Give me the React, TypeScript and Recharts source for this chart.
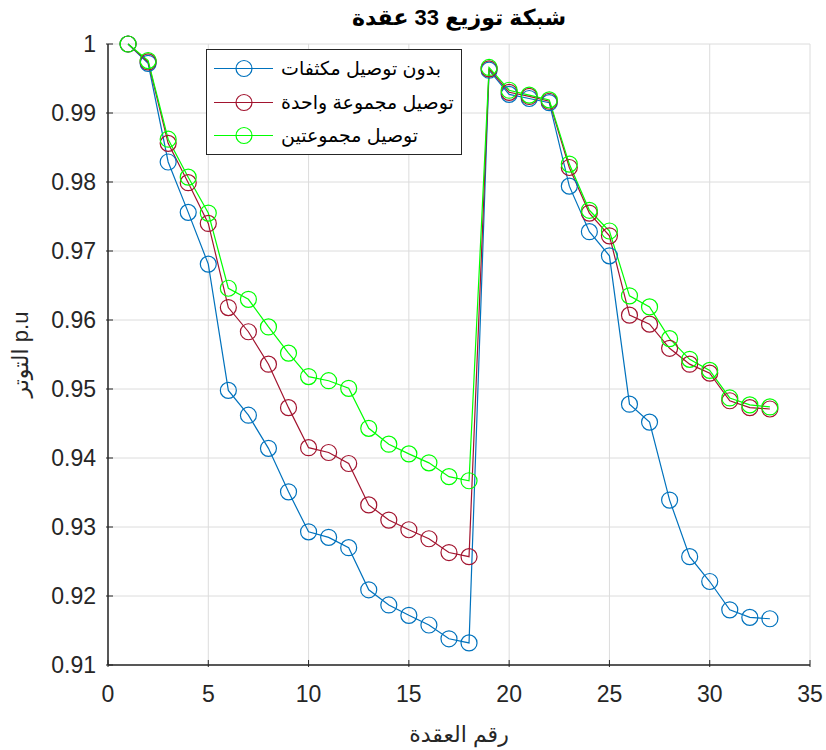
import { LineChart, Line, XAxis, YAxis, CartesianGrid, Label } from "recharts";

const nodes = [1, 2, 3, 4, 5, 6, 7, 8, 9, 10, 11, 12, 13, 14, 15, 16, 17, 18, 19, 20, 21, 22, 23, 24, 25, 26, 27, 28, 29, 30, 31, 32, 33];

const noCaps = [
  1.0, 0.9972, 0.9829, 0.9756, 0.9681, 0.9498, 0.9462, 0.9414, 0.9351, 0.9293,
  0.9285, 0.927, 0.9209, 0.9187, 0.9172, 0.9158, 0.9138, 0.9132, 0.9962, 0.9927,
  0.9921, 0.9915, 0.9794, 0.9728, 0.9693, 0.9478, 0.9452, 0.9339, 0.9257, 0.9221,
  0.918, 0.9169, 0.9167,
];

const oneGroup = [
  1.0, 0.9974, 0.9856, 0.9799, 0.974, 0.9618, 0.9583, 0.9536, 0.9473, 0.9415,
  0.9408, 0.9392, 0.9332, 0.931, 0.9296, 0.9283, 0.9263, 0.9257, 0.9964, 0.993,
  0.9924, 0.9917, 0.9821, 0.9755, 0.9722, 0.9607, 0.9594, 0.9559, 0.9536, 0.9523,
  0.9483, 0.9473, 0.9471,
];

const twoGroups = [
  1.0, 0.9976, 0.9862, 0.9807, 0.9755, 0.9646, 0.963, 0.959, 0.9552, 0.9518,
  0.9512, 0.9501, 0.9443, 0.942, 0.9406, 0.9393, 0.9373, 0.9367, 0.9966, 0.9933,
  0.9926, 0.9919, 0.9826, 0.9759, 0.9729, 0.9635, 0.9619, 0.9573, 0.9543, 0.9527,
  0.9487, 0.9477, 0.9474,
];

const xTicks = [0, 5, 10, 15, 20, 25, 30, 35];
const yTicks = [0.91, 0.92, 0.93, 0.94, 0.95, 0.96, 0.97, 0.98, 0.99, 1];

const seriesNames = ["بدون توصيل مكثفات", "توصيل مجموعة واحدة", "توصيل مجموعتين"];
const seriesKeys = ["noCaps", "oneGroup", "twoGroups"];
const seriesColors = ["#0072BD", "#A2142F", "#00FF00"];

const data = nodes.map((n, i) => ({
  node: n,
  noCaps: noCaps[i],
  oneGroup: oneGroup[i],
  twoGroups: twoGroups[i],
}));

const AXIS = "#262626";
const FONT = "'Liberation Sans', Arial, 'DejaVu Sans', sans-serif";

function BottomTick(props: any) {
  const { x, y, payload } = props;
  return (
    <g>
      <line x1={x} y1={y} x2={x} y2={y - 7} stroke={AXIS} strokeWidth={1} />
      <text x={x} y={y + 35} textAnchor="middle" fontSize={23} fill={AXIS} fontFamily={FONT}>
        {payload.value}
      </text>
    </g>
  );
}

function TopTick(props: any) {
  const { x, y } = props;
  return <line x1={x} y1={y} x2={x} y2={y + 7} stroke={AXIS} strokeWidth={1} />;
}

function LeftTick(props: any) {
  const { x, y, payload } = props;
  const v = payload.value;
  return (
    <g>
      <line x1={x} y1={y} x2={x + 7} y2={y} stroke={AXIS} strokeWidth={1} />
      <text x={x - 10} y={y + 8} textAnchor="end" fontSize={23} fill={AXIS} fontFamily={FONT}>
        {v === 1 ? "1" : v.toFixed(2)}
      </text>
    </g>
  );
}

function RightTick(props: any) {
  const { x, y } = props;
  return <line x1={x} y1={y} x2={x - 7} y2={y} stroke={AXIS} strokeWidth={1} />;
}

function YLabel(props: any) {
  const vb = props.viewBox;
  const cx = 20;
  const cy = vb.y + vb.height / 2;
  return (
    <text
      x={cx}
      y={cy}
      transform={`rotate(-90 ${cx} ${cy})`}
      textAnchor="middle"
      dominantBaseline="central"
      fontSize={22}
      fill={AXIS}
      fontFamily={FONT}
    >
      التوتر p.u
    </text>
  );
}

export default function App() {
  return (
    <div style={{ position: "absolute", left: 0, top: 0, width: 826, height: 750, background: "#fff" }}>
      <LineChart width={826} height={750} data={data} margin={{ top: 44, right: 16, left: 0, bottom: 0 }}>
        <CartesianGrid stroke="#dcdcdc" strokeWidth={1} />
        <XAxis
          dataKey="node"
          type="number"
          domain={[0, 35]}
          ticks={xTicks}
          height={85}
          tickSize={0}
          stroke={AXIS}
          strokeWidth={1.5}
          tick={<BottomTick />}
          interval={0}
        >
          <Label value="رقم العقدة" position="insideBottom" offset={8} fontSize={22} fill={AXIS} fontFamily={FONT} />
        </XAxis>
        <XAxis
          xAxisId="top"
          orientation="top"
          dataKey="node"
          type="number"
          domain={[0, 35]}
          ticks={xTicks}
          height={0}
          tickSize={0}
          stroke={AXIS}
          strokeWidth={1.5}
          tick={<TopTick />}
          interval={0}
        />
        <YAxis
          type="number"
          domain={[0.91, 1]}
          ticks={yTicks}
          width={108}
          tickSize={0}
          stroke={AXIS}
          strokeWidth={1.5}
          tick={<LeftTick />}
          interval={0}
        >
          <Label content={<YLabel />} />
        </YAxis>
        <YAxis
          yAxisId="right"
          orientation="right"
          type="number"
          domain={[0.91, 1]}
          ticks={yTicks}
          width={0}
          tickSize={0}
          stroke={AXIS}
          strokeWidth={1.5}
          tick={<RightTick />}
          interval={0}
        />
        {seriesKeys.map((k, i) => (
          <Line
            key={k}
            dataKey={k}
            type="linear"
            stroke={seriesColors[i]}
            strokeWidth={1.2}
            dot={{ r: 8, fill: "none", stroke: seriesColors[i], strokeWidth: 1.2 }}
            activeDot={false}
            isAnimationActive={false}
          />
        ))}
      </LineChart>
      <div
        style={{
          position: "absolute",
          left: 108,
          width: 702,
          top: 3,
          textAlign: "center",
          fontFamily: FONT,
          fontWeight: "bold",
          fontSize: 22,
          lineHeight: "30px",
          color: "#000",
        }}
      >
        شبكة توزيع 33 عقدة
      </div>
      <div
        style={{
          position: "absolute",
          left: 206,
          top: 49,
          width: 254,
          height: 102,
          border: `1px solid ${AXIS}`,
          background: "#fff",
          paddingTop: 2,
          boxSizing: "content-box",
        }}
      >
        {seriesNames.map((name, i) => (
          <div key={name} style={{ display: "flex", alignItems: "center", height: 33.5 }}>
            <svg width={66} height={33} style={{ flex: "none" }}>
              <line x1={7} y1={16.5} x2={66} y2={16.5} stroke={seriesColors[i]} strokeWidth={1.2} />
              <circle cx={37} cy={16.5} r={8} fill="none" stroke={seriesColors[i]} strokeWidth={1.2} />
            </svg>
            <span style={{ marginLeft: 8, fontFamily: FONT, fontSize: 19, color: "#000", whiteSpace: "nowrap" }}>
              {name}
            </span>
          </div>
        ))}
      </div>
    </div>
  );
}
